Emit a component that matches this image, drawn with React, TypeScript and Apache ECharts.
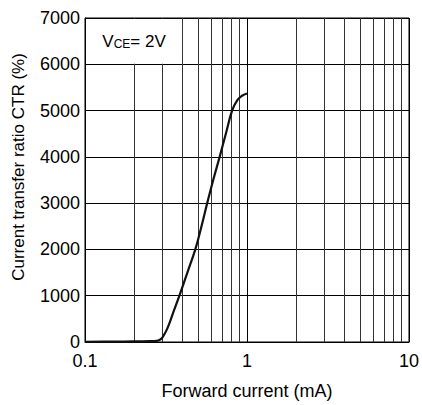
import React, { useEffect, useRef } from "react";
import * as echarts from "echarts";

const currentMA = [0.1, 0.15, 0.2, 0.25, 0.2765, 0.29, 0.301, 0.323, 0.3516, 0.3826, 0.4285, 0.4797, 0.522, 0.568, 0.6187, 0.678, 0.743, 0.809, 0.872, 0.932, 1.0];
const ctrPercent = [5, 8, 12, 18, 25, 50, 100, 300, 650, 1000, 1500, 2000, 2480, 3000, 3500, 4000, 4520, 5000, 5227, 5320, 5370];
const minorGridX = [0.2, 0.3, 0.4, 0.5, 0.6, 0.7, 0.8, 0.9, 2, 3, 4, 5, 6, 7, 8, 9];
const xTickLabels: Record<string, string> = { "0.1": "0.1", "1": "1", "10": "10" };
const xTitle = "Forward current (mA)";
const yTitle = "Current transfer ratio CTR (%)";

const FONT = "'Liberation Sans', Arial, Helvetica, sans-serif";

export default function App() {
  const ref = useRef<HTMLDivElement>(null);
  useEffect(() => {
    if (!ref.current) return;
    const chart = echarts.init(ref.current, undefined, { renderer: "svg" });
    chart.setOption({
      animation: false,
      backgroundColor: "#fff",
      grid: { left: 85, top: 18, right: 11, bottom: 63, show: true, borderColor: "#000", borderWidth: 1, containLabel: false },
      xAxis: {
        type: "log",
        logBase: 10,
        min: 0.1,
        max: 10,
        name: xTitle,
        nameLocation: "middle",
        nameGap: 40,
        nameTextStyle: { fontFamily: FONT, fontSize: 18, color: "#000" },
        axisLine: { show: true, lineStyle: { color: "#000", width: 1 } },
        axisTick: { show: false },
        axisLabel: {
          fontFamily: FONT,
          fontSize: 18,
          color: "#000",
          margin: 10,
          formatter: (v: number) => xTickLabels[String(+v.toPrecision(3))] ?? "",
        },
        splitLine: { show: true, lineStyle: { color: "#000", width: 1 } },
      },
      yAxis: {
        type: "value",
        min: 0,
        max: 7000,
        interval: 1000,
        name: yTitle,
        nameLocation: "middle",
        nameGap: 58,
        nameRotate: 90,
        nameTextStyle: { fontFamily: FONT, fontSize: 17, color: "#000", padding: [0, 0, 0, 26] },
        axisLine: { show: true, lineStyle: { color: "#000", width: 1 } },
        axisTick: { show: false },
        axisLabel: { fontFamily: FONT, fontSize: 18, color: "#000", margin: 5, formatter: (v: number) => String(v) },
        splitLine: { show: true, lineStyle: { color: "#000", width: 1 } },
      },
      series: [
        {
          type: "line",
          data: currentMA.map((x, i) => [x, ctrPercent[i]]),
          symbol: "none",
          smooth: 0.4,
          lineStyle: { color: "#111", width: 2.2 },
          z: 5,
          markLine: {
            silent: true,
            symbol: ["none", "none"],
            label: { show: false },
            lineStyle: { color: "#333", width: 1, type: "solid" },
            data: minorGridX.map((v) => ({ xAxis: v })),
            z: 1,
          },
        },
      ],
    });
    const p0 = chart.convertToPixel({ gridIndex: 0 }, [0.1, 7000]) as number[];
    const p1 = chart.convertToPixel({ gridIndex: 0 }, [0.4, 6000]) as number[];
    const bx = p0[0] + 1;
    const by = p0[1] + 1;
    const bw = p1[0] - p0[0] - 1.5;
    const bh = p1[1] - p0[1] - 1.5;
    chart.setOption({
      graphic: [
        { type: "rect", z: 100, shape: { x: bx, y: by, width: bw, height: bh }, style: { fill: "#fff" } },
        {
          type: "text",
          z: 101,
          x: bx + bw / 2,
          y: by + bh / 2,
          style: {
            text: "{a|V}{b|CE}{a|= 2V}",
            align: "center",
            verticalAlign: "middle",
            rich: {
              a: { fontFamily: FONT, fontSize: 17, fill: "#000", verticalAlign: "bottom", lineHeight: 18 },
              b: { fontFamily: FONT, fontSize: 12, fill: "#000", verticalAlign: "bottom", lineHeight: 15 },
            },
          },
        },
      ],
    });
    return () => chart.dispose();
  }, []);
  return (
    <div style={{ position: "fixed", left: 0, top: 0, width: 422, height: 405, background: "#fff" }}>
      <div ref={ref} style={{ width: 422, height: 405 }} />
    </div>
  );
}
